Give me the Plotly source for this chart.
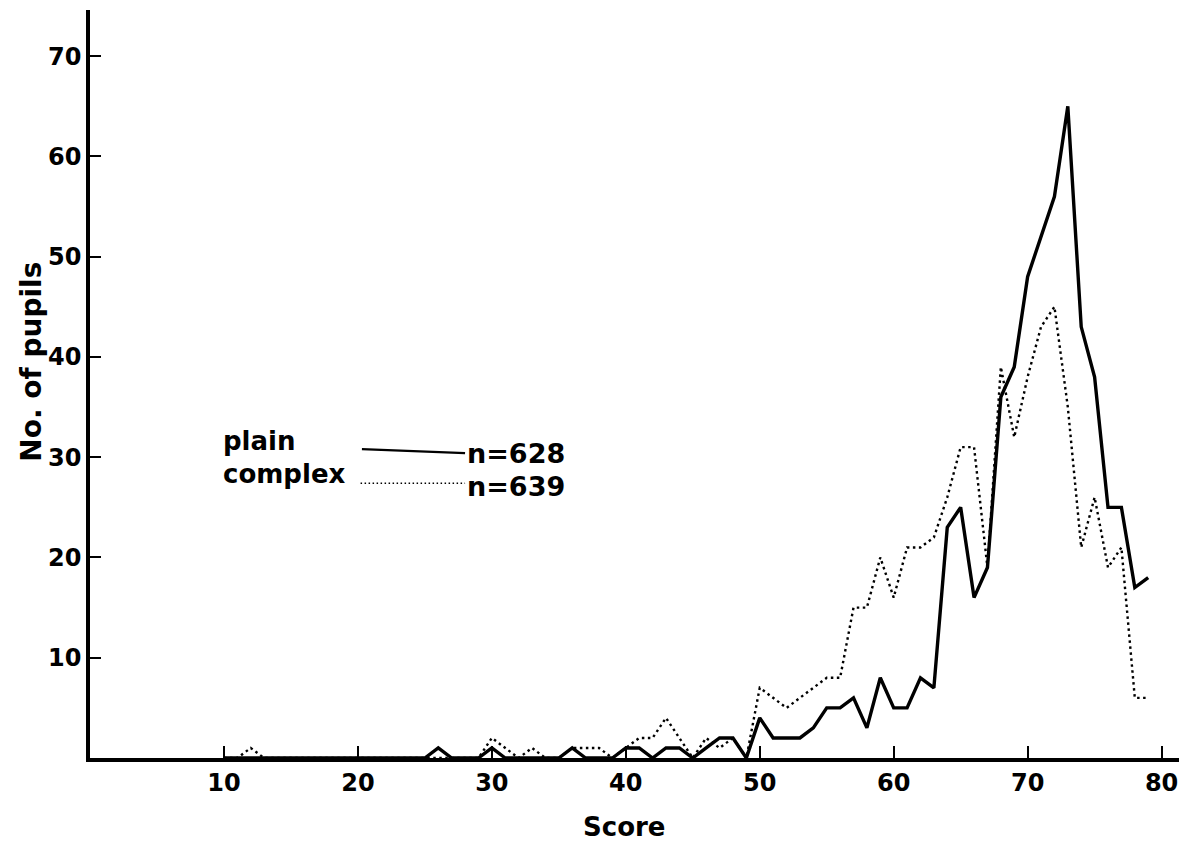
import plotly.graph_objects as go

# ---- data ----
scores = list(range(10, 80))

plain_vals = {
    26: 1, 30: 1, 36: 1, 40: 1, 41: 1, 43: 1, 44: 1, 46: 1, 47: 2, 48: 2,
    50: 4, 51: 2, 52: 2, 53: 2, 54: 3, 55: 5, 56: 5, 57: 6, 58: 3, 59: 8,
    60: 5, 61: 5, 62: 8, 63: 7, 64: 23, 65: 25, 66: 16, 67: 19, 68: 36, 69: 39,
    70: 48, 71: 52, 72: 56, 73: 65, 74: 43, 75: 38, 76: 25, 77: 25, 78: 17, 79: 18,
}
complex_vals = {
    12: 1, 30: 2, 31: 1, 33: 1, 36: 1, 37: 1, 38: 1, 40: 1, 41: 2, 42: 2,
    43: 4, 44: 2, 46: 2, 47: 1, 48: 2,
    50: 7, 51: 6, 52: 5, 53: 6, 54: 7, 55: 8, 56: 8, 57: 15, 58: 15, 59: 20,
    60: 16, 61: 21, 62: 21, 63: 22, 64: 26, 65: 31, 66: 31, 67: 19, 68: 39, 69: 32,
    70: 38, 71: 43, 72: 45, 73: 35, 74: 21, 75: 26, 76: 19, 77: 21, 78: 6, 79: 6,
}
plain = [plain_vals.get(s, 0) for s in scores]
complex_ = [complex_vals.get(s, 0) for s in scores]

x_ticks = [10, 20, 30, 40, 50, 60, 70, 80]
y_ticks = [10, 20, 30, 40, 50, 60, 70]

legend_labels = ["plain", "complex"]
legend_counts = ["n=628", "n=639"]

FONT = "DejaVu Sans"
BLACK = "black"

fig = go.Figure()
fig.add_trace(go.Scatter(x=scores, y=complex_, mode="lines",
                         line=dict(color=BLACK, width=2.4, dash="2.5px,3.5px"),
                         name="complex", showlegend=False))
fig.add_trace(go.Scatter(x=scores, y=plain, mode="lines",
                         line=dict(color=BLACK, width=3.4),
                         name="plain", showlegend=False))

# legend drawn as text + sample lines (positions in axis units)
lab_font = dict(family=FONT, size=26, color=BLACK)
cnt_font = dict(family=FONT, size=27, color=BLACK)
fig.add_annotation(x=9.8, y=31.6, xanchor="left", yanchor="middle", showarrow=False,
                   text=f"<b>{legend_labels[0]}</b>", font=lab_font)
fig.add_annotation(x=9.8, y=28.3, xanchor="left", yanchor="middle", showarrow=False,
                   text=f"<b>{legend_labels[1]}</b>", font=lab_font)
fig.add_annotation(x=28.0, y=30.4, xanchor="left", yanchor="middle", showarrow=False,
                   text=f"<b>{legend_counts[0]}</b>", font=cnt_font)
fig.add_annotation(x=28.0, y=27.1, xanchor="left", yanchor="middle", showarrow=False,
                   text=f"<b>{legend_counts[1]}</b>", font=cnt_font)
fig.add_shape(type="line", x0=20.3, x1=28.0, y0=30.8, y1=30.4,
              line=dict(color=BLACK, width=2.2))
fig.add_shape(type="line", x0=20.2, x1=28.0, y0=27.4, y1=27.4,
              line=dict(color=BLACK, width=1.6, dash="1.5px,2.5px"))

# axis titles as annotations (placed like the reference)
fig.add_annotation(xref="paper", yref="paper", x=0.490, y=-0.092, xanchor="center", yanchor="middle",
                   showarrow=False, text="<b>Score</b>", font=dict(family=FONT, size=26, color=BLACK))
fig.add_annotation(xref="paper", yref="paper", x=-0.054, y=0.53, xanchor="center", yanchor="middle",
                   showarrow=False, textangle=-90, text="<b>No. of pupils</b>",
                   font=dict(family=FONT, size=28, color=BLACK))

fig.update_layout(
    width=1180, height=837,
    margin=dict(l=82, r=9, t=2, b=87),
    paper_bgcolor="white", plot_bgcolor="white",
    showlegend=False,
    font=dict(family=FONT, color=BLACK),
    xaxis=dict(range=[0, 81.3], tickvals=x_ticks, ticktext=[f"<b>{v}</b>" for v in x_ticks],
               ticks="inside", ticklen=12, tickwidth=2, tickcolor=BLACK,
               showline=True, linewidth=3.5, linecolor=BLACK, showgrid=False, zeroline=False,
               tickfont=dict(family=FONT, size=24, color=BLACK)),
    yaxis=dict(range=[0, 74.6], tickvals=y_ticks, ticktext=[f"<b>{v}</b>" for v in y_ticks],
               ticks="inside", ticklen=11, tickwidth=2, tickcolor=BLACK,
               showline=True, linewidth=3.5, linecolor=BLACK, showgrid=False, zeroline=False,
               tickfont=dict(family=FONT, size=24, color=BLACK)),
)

fig.write_html("out.html")
